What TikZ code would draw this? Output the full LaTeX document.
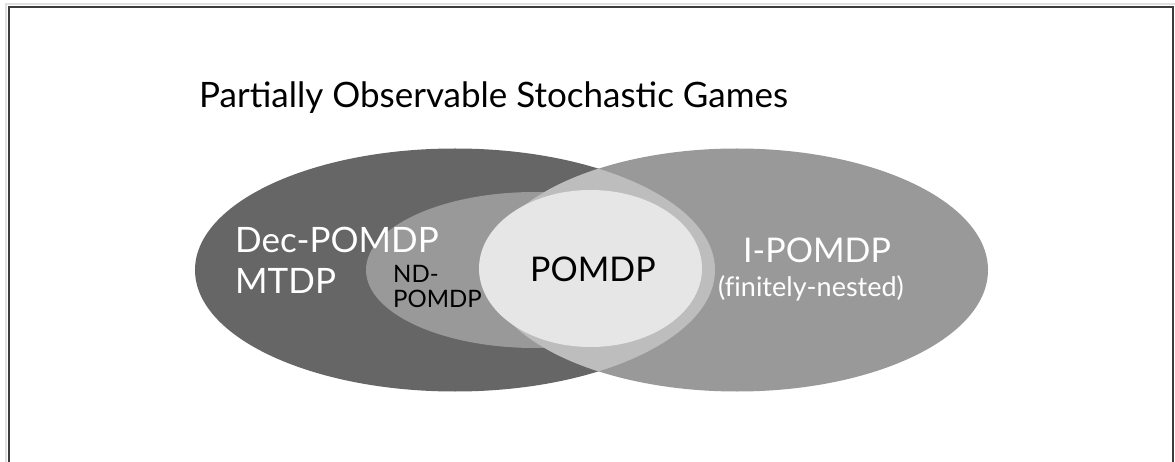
\documentclass[tikz,border=0pt]{standalone}
\usepackage{fontspec}
\setmainfont{Lato}
\definecolor{darkg}{HTML}{666666}
\definecolor{midg}{HTML}{999999}
\definecolor{lensg}{HTML}{BDBDBD}
\definecolor{lightg}{HTML}{E6E6E6}
\definecolor{framec}{HTML}{3C3C3C}
\begin{document}
\begin{tikzpicture}[x=1pt,y=-1pt,
  lbl/.style={inner sep=0pt, anchor=base west},
  wtxt/.style={lbl, text=white},
  btxt/.style={lbl, text=black}]
\useasboundingbox (0,0) rectangle (1175,462);
\fill[white] (0,0) rectangle (1175,462);
% frame (open at bottom)
\draw[black!12, line width=2pt] (6,462) -- (6,4) -- (1176,4);
\draw[framec, line width=1.5pt] (9,463) -- (9,7) -- (1173,7) -- (1173,463);
% title
\node[btxt, font=\fontsize{35}{40}\selectfont] (title) at (199,108) {Partially Observable Stochastic Games};
% sets
\coordinate (cL) at (455,270);
\coordinate (cR) at (737,270);
\coordinate (cN) at (535,270);
\coordinate (cP) at (590.5,268.5);
\fill[darkg] (cL) ellipse (260pt and 121.5pt);
\fill[midg] (cN) ellipse (169pt and 78pt);
\fill[midg] (cR) ellipse (251pt and 121.5pt);
\begin{scope}
  \clip (cL) ellipse (260pt and 121.5pt);
  \fill[lensg] (cR) ellipse (251pt and 121.5pt);
\end{scope}
\fill[lightg] (cP) ellipse (111.5pt and 78.5pt);
% labels
\node[wtxt, font=\fontsize{35}{40}\selectfont] (dec) at (235,253) {Dec-POMDP};
\node[wtxt, font=\fontsize{35}{40}\selectfont] (mtdp) at (235,294) {MTDP};
\node[btxt, font=\fontsize{24}{28}\selectfont] (nd1) at (393,283) {ND-};
\node[btxt, font=\fontsize{24}{28}\selectfont] (nd2) at (393,307) {POMDP};
\node[btxt, font=\fontsize{34}{40}\selectfont] (pomdp) at (530,282) {POMDP};
\node[wtxt, font=\fontsize{34}{40}\selectfont] (ipomdp) at (743,263) {I-POMDP};
\node[wtxt, font=\fontsize{27}{32}\selectfont] (fin) at (718,297) {(f\kern0pt initely-nested)};
\end{tikzpicture}
\end{document}
